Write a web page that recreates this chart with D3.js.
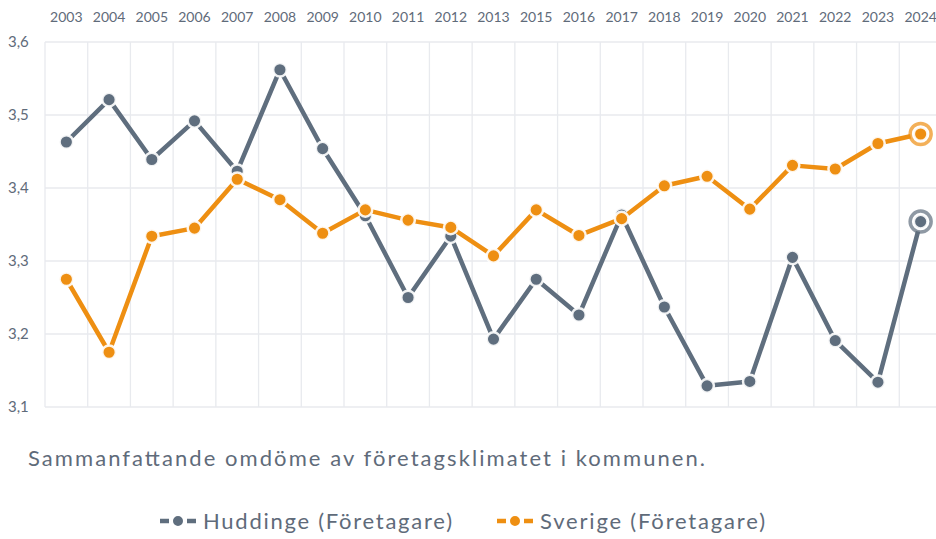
<!DOCTYPE html>
<html>
<head>
<meta charset="utf-8">
<script src="https://cdn.jsdelivr.net/npm/d3@7"></script>
<style>
  html, body { margin: 0; padding: 0; background: #fff; }
  svg { display: block; font-family: Lato, "Open Sans", sans-serif; }
</style>
</head>
<body>
<svg id="chart" width="936" height="539"></svg>
<script>
// Survey years (2014 missing in the series)
const years = ["2003","2004","2005","2006","2007","2008","2009","2010","2011","2012","2013",
               "2015","2016","2017","2018","2019","2020","2021","2022","2023","2024"];
const huddinge = [3.463, 3.521, 3.439, 3.492, 3.423, 3.562, 3.454, 3.362, 3.250, 3.334, 3.193,
                  3.275, 3.226, 3.363, 3.237, 3.129, 3.135, 3.305, 3.191, 3.134, 3.354];
const sverige  = [3.275, 3.175, 3.334, 3.345, 3.412, 3.384, 3.338, 3.370, 3.356, 3.346, 3.307,
                  3.370, 3.335, 3.358, 3.403, 3.416, 3.371, 3.431, 3.426, 3.461, 3.474];
const yTicks = [3.1, 3.2, 3.3, 3.4, 3.5, 3.6];
const seriesNames = ["Huddinge (Företagare)", "Sverige (Företagare)"];
const caption = "Sammanfattande omdöme av företagsklimatet i kommunen.";

const colors = { huddinge: "#5f6e7e", sverige: "#ee8f12" };
const textColor = "#5f6b7a";

const svg = d3.select("#chart");
const plotLeft = 45, plotRight = 942, plotTop = 42, plotBottom = 407;

const x = d3.scaleBand().domain(years).range([plotLeft, plotRight]);
const y = d3.scaleLinear().domain([3.1, 3.6]).range([plotBottom, plotTop]);

// grid
const grid = svg.append("g");
grid.selectAll("line.h").data(yTicks).join("line")
  .attr("class", "h")
  .attr("x1", plotLeft).attr("x2", 936)
  .attr("y1", d => y(d)).attr("y2", d => y(d))
  .attr("stroke", "#e8eaee").attr("stroke-width", 1.3);
grid.selectAll("line.v").data(years).join("line")
  .attr("class", "v")
  .attr("x1", d => x(d)).attr("x2", d => x(d))
  .attr("y1", plotTop).attr("y2", plotBottom)
  .attr("stroke", "#e8eaee").attr("stroke-width", 1.3);

// y labels
svg.append("g").selectAll("text").data(yTicks).join("text")
  .attr("x", 8).attr("y", d => y(d)).attr("dy", "0.35em")
  .attr("fill", textColor).attr("font-size", 15)
  .text(d => d3.format(".1f")(d).replace(".", ","));

// x labels along the top
svg.append("g").selectAll("text").data(years).join("text")
  .attr("x", d => x(d) + x.bandwidth() / 2).attr("y", 17).attr("dy", "0.35em")
  .attr("text-anchor", "middle")
  .attr("fill", textColor).attr("font-size", 14)
  .text(d => d);

const line = d3.line().x((d, i) => x(years[i]) + x.bandwidth() / 2).y(d => y(d));

function drawSeries(values, color) {
  const g = svg.append("g");
  g.append("path").datum(values)
    .attr("d", line).attr("fill", "none")
    .attr("stroke", color).attr("stroke-width", 4.5)
    .attr("stroke-linejoin", "round");
  // highlight ring on the latest value
  const last = values.length - 1;
  g.append("circle")
    .attr("cx", x(years[last]) + x.bandwidth() / 2).attr("cy", y(values[last]))
    .attr("r", 10.5).attr("fill", "#fff")
    .attr("stroke", color).attr("stroke-opacity", 0.7).attr("stroke-width", 3.5);
  g.selectAll("circle.pt").data(values).join("circle")
    .attr("class", "pt")
    .attr("cx", (d, i) => x(years[i]) + x.bandwidth() / 2)
    .attr("cy", d => y(d))
    .attr("r", 6.8)
    .attr("fill", color)
    .attr("stroke", "#fff").attr("stroke-opacity", 0.9).attr("stroke-width", 2.5);
}
drawSeries(huddinge, colors.huddinge);
drawSeries(sverige, colors.sverige);

// caption
svg.append("text")
  .attr("x", 28).attr("y", 466)
  .attr("fill", textColor).attr("font-size", 22)
  .attr("textLength", 677).attr("lengthAdjust", "spacing")
  .text(caption);

// legend
const legend = [
  { name: seriesNames[0], color: colors.huddinge, x0: 160, tx: 203, w: 249 },
  { name: seriesNames[1], color: colors.sverige,  x0: 497, tx: 540, w: 225 }
];
const lg = svg.append("g").selectAll("g").data(legend).join("g");
lg.append("line")
  .attr("x1", d => d.x0).attr("x2", d => d.x0 + 36)
  .attr("y1", 521).attr("y2", 521)
  .attr("stroke", d => d.color).attr("stroke-width", 4.5)
  .attr("stroke-dasharray", "9,4,10,4,9");
lg.append("circle")
  .attr("cx", d => d.x0 + 18).attr("cy", 521).attr("r", 6)
  .attr("fill", d => d.color).attr("stroke", "#fff").attr("stroke-width", 2);
lg.append("text")
  .attr("x", d => d.tx).attr("y", 521).attr("dy", "0.35em")
  .attr("fill", textColor).attr("font-size", 22)
  .attr("textLength", d => d.w).attr("lengthAdjust", "spacing")
  .text(d => d.name);
</script>
</body>
</html>
